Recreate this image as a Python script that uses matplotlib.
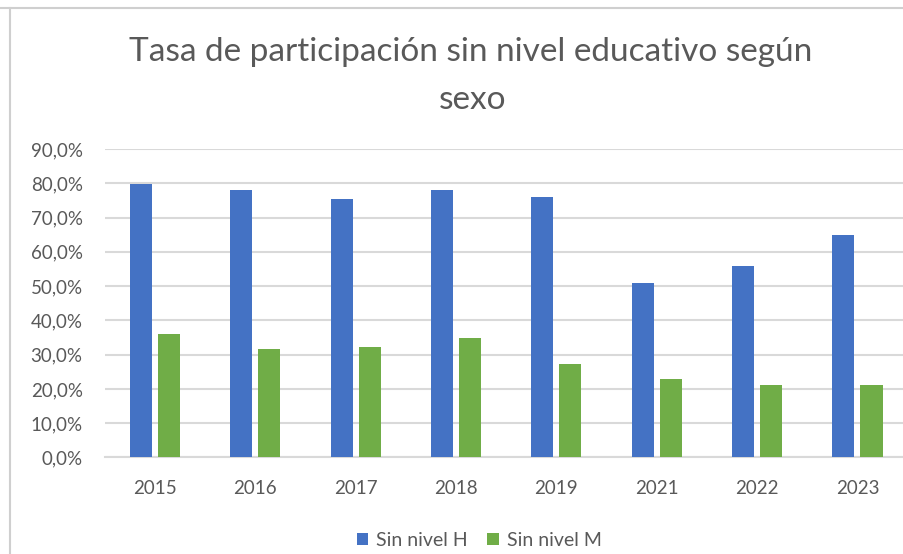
import numpy as np
import matplotlib.pyplot as plt
from matplotlib.lines import Line2D

# Datos
years = ["2015", "2016", "2017", "2018", "2019", "2021", "2022", "2023"]
sin_nivel_h = [79.7, 78.0, 75.3, 78.0, 75.9, 51.0, 55.9, 64.8]
sin_nivel_m = [36.0, 31.6, 32.2, 34.9, 27.3, 22.9, 21.1, 21.1]
y_ticks = [0, 10, 20, 30, 40, 50, 60, 70, 80, 90]
y_tick_labels = [f"{v:.1f}".replace(".", ",") + "%" for v in y_ticks]

blue = "#4472C4"
green = "#70AD47"
text_gray = "#595959"
grid_gray = "#D9D9D9"

plt.rcParams['font.family'] = ['Lato', 'DejaVu Sans']

fig = plt.figure(figsize=(9.04, 5.54), dpi=100)
ax = fig.add_axes([0.116, 0.1742, 0.888, 0.5568])

x = np.arange(len(years))
w = 0.22
ax.bar(x - 0.14, sin_nivel_h, width=w, color=blue, label="Sin nivel H", zorder=3)
ax.bar(x + 0.14, sin_nivel_m, width=w, color=green, label="Sin nivel M", zorder=3)

ax.set_xlim(-0.5, len(years) - 0.5)
ax.set_ylim(0, 90)
ax.set_yticks(y_ticks)
ax.set_yticklabels(y_tick_labels)
ax.set_xticks(x)
ax.set_xticklabels(years)
ax.tick_params(length=0, labelsize=13.5, colors=text_gray)
ax.tick_params(axis="y", pad=16)
ax.tick_params(axis="x", pad=16)
ax.grid(axis="y", color=grid_gray, linewidth=1.5, zorder=0)
for s in ["top", "right", "left"]:
    ax.spines[s].set_visible(False)
ax.spines["bottom"].set_color(grid_gray)
ax.spines["bottom"].set_linewidth(1.5)

fig.text(0.521, 0.906, "Tasa de participación sin nivel educativo según",
         ha="center", va="center", fontsize=24, color=text_gray)
fig.text(0.523, 0.82, "sexo", ha="center", va="center", fontsize=24, color=text_gray)

fig.legend(loc="center", bbox_to_anchor=(0.53, 0.025), ncol=2, frameon=False,
           fontsize=14, labelcolor=text_gray, handlelength=0.6, handleheight=0.6,
           handletextpad=0.4, columnspacing=1.0)

# bordes de la hoja de cálculo
fig.add_artist(Line2D([0, 1], [0.986, 0.986], color="#CFCFCF", linewidth=1.5))
fig.add_artist(Line2D([0.011, 0.011], [0, 0.986], color="#CFCFCF", linewidth=1.5))

fig.savefig("out.png", dpi=100)
